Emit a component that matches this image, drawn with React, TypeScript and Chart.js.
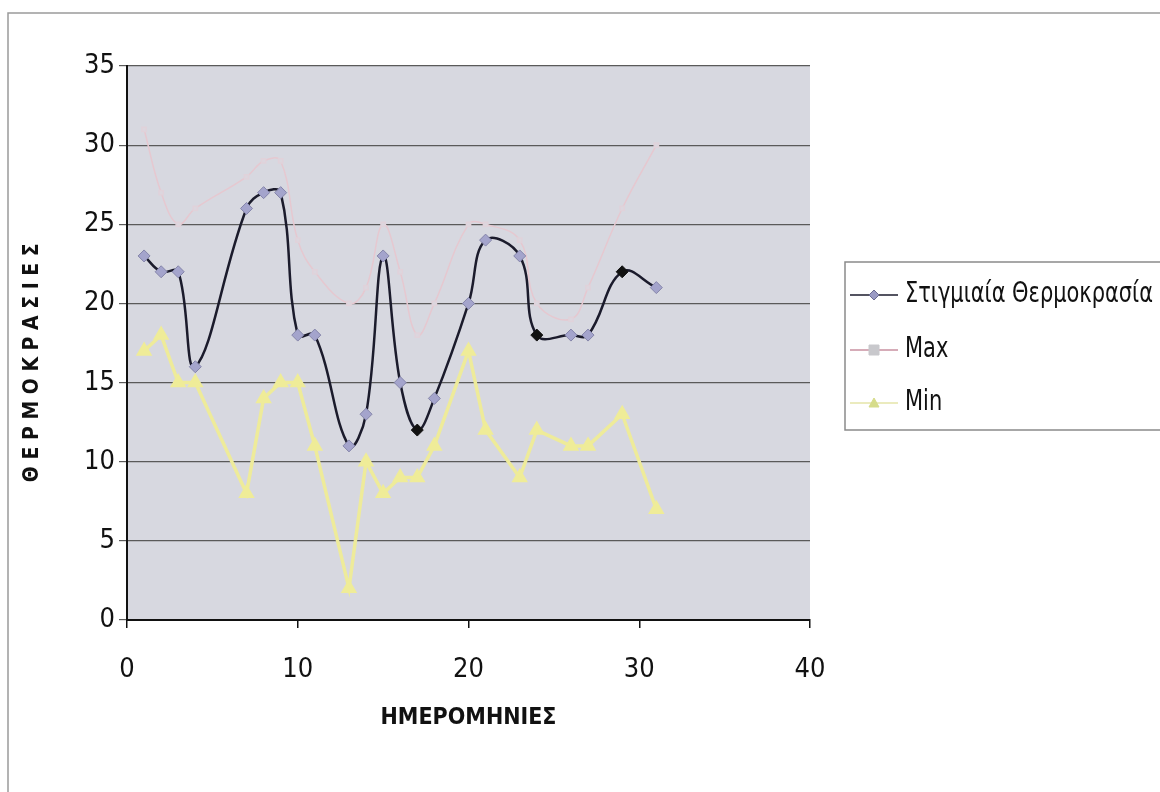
import React, { useEffect, useRef } from "react";
import { Chart, registerables } from "chart.js";

Chart.register(...registerables);

const days = [1, 2, 3, 4, 7, 8, 9, 10, 11, 13, 14, 15, 16, 17, 18, 20, 21, 23, 24, 26, 27, 29, 31];
const instantTemp = [23, 22, 22, 16, 26, 27, 27, 18, 18, 11, 13, 23, 15, 12, 14, 20, 24, 23, 18, 18, 18, 22, 21];
const maxTemp = [31, 27, 25, 26, 28, 29, 29, 24, 22, 20, 21, 25, 22, 18, 20, 25, 25, 24, 20, 19, 21, 26, 30];
const minTemp = [17, 18, 15, 15, 8, 14, 15, 15, 11, 2, 10, 8, 9, 9, 11, 17, 12, 9, 12, 11, 11, 13, 7];
const darkDays = [17, 24, 29];

const xTicks = [0, 10, 20, 30, 40];
const yTicks = [0, 5, 10, 15, 20, 25, 30, 35];

const FONT = "'DejaVu Sans Condensed', 'Liberation Sans Narrow', 'Liberation Sans', Arial, sans-serif";

const toPoints = (ys: number[]) => days.map((d, i) => ({ x: d, y: ys[i] }));

const plotBg = {
  id: "plotBg",
  beforeDraw(chart: any) {
    const { ctx, chartArea } = chart;
    ctx.save();
    ctx.fillStyle = "#d7d8e0";
    ctx.fillRect(chartArea.left, chartArea.top, chartArea.right - chartArea.left, chartArea.bottom - chartArea.top);
    ctx.strokeStyle = "#9a9a9a";
    ctx.lineWidth = 1.5;
    ctx.strokeRect(8, 13, 1170, 800);
    ctx.restore();
  },
};

const boxLegend = {
  id: "boxLegend",
  afterDraw(chart: any) {
    const { ctx } = chart;
    const left = 845, top = 262, bottom = 430;
    ctx.save();
    ctx.fillStyle = "#ffffff";
    ctx.fillRect(left, top, 400, bottom - top);
    ctx.strokeStyle = "#8a8a8a";
    ctx.lineWidth = 1.5;
    ctx.strokeRect(left, top, 400, bottom - top);
    const rows = [295, 350, 403];
    ctx.font = `28px ${FONT}`;
    const widest = Math.max(...chart.data.datasets.map((d: any) => ctx.measureText(d.label).width));
    const sx = Math.min(1, 248 / widest);
    chart.data.datasets.forEach((ds: any, i: number) => {
      const y = rows[i];
      ctx.strokeStyle = ds.legendLine;
      ctx.lineWidth = 1.5;
      ctx.beginPath();
      ctx.moveTo(850, y);
      ctx.lineTo(898, y);
      ctx.stroke();
      ctx.fillStyle = ds.legendMarker;
      ctx.strokeStyle = ds.pointBorderColorLegend || ds.legendMarker;
      ctx.lineWidth = 1;
      const cx = 874;
      ctx.beginPath();
      if (ds.pointStyle === "rectRot") {
        ctx.moveTo(cx, y - 5); ctx.lineTo(cx + 5, y); ctx.lineTo(cx, y + 5); ctx.lineTo(cx - 5, y); ctx.closePath();
      } else if (ds.pointStyle === "rect") {
        ctx.rect(cx - 5, y - 5, 10, 10);
      } else {
        ctx.moveTo(cx, y - 5); ctx.lineTo(cx + 5, y + 4); ctx.lineTo(cx - 5, y + 4); ctx.closePath();
      }
      ctx.fill();
      ctx.stroke();
      ctx.save();
      ctx.translate(905, y);
      ctx.scale(sx, 1);
      ctx.fillStyle = "#111111";
      ctx.font = `28px ${FONT}`;
      ctx.textBaseline = "middle";
      ctx.textAlign = "left";
      ctx.fillText(ds.label, 0, 0);
      ctx.restore();
    });
    ctx.restore();
  },
};

export default function App() {
  const ref = useRef<HTMLCanvasElement | null>(null);

  useEffect(() => {
    if (!ref.current) return;
    const chart = new Chart(ref.current, {
      type: "line",
      data: {
        datasets: [
          {
            label: "Στιγμιαία Θερμοκρασία",
            data: toPoints(instantTemp),
            borderColor: "#1b1b2c",
            borderWidth: 2.5,
            tension: 0.4,
            pointStyle: "rectRot",
            pointRadius: 6,
            pointBackgroundColor: (c: any) => (c.raw && darkDays.includes(c.raw.x) ? "#111111" : "#a4a4cc"),
            pointBorderColor: (c: any) => (c.raw && darkDays.includes(c.raw.x) ? "#111111" : "#8585aa"),
            pointBorderWidth: 1,
            legendLine: "#1b1b2c",
            legendMarker: "#9a9ac4",
            pointBorderColorLegend: "#6a6a90",
          } as any,
          {
            label: "Max",
            data: toPoints(maxTemp),
            borderColor: "#e6c8d0",
            borderWidth: 1.5,
            tension: 0.4,
            pointStyle: "rect",
            pointRadius: 3,
            pointBackgroundColor: "#dcd6de",
            pointBorderColor: "#e0d2da",
            legendLine: "#c890a0",
            legendMarker: "#c8c8cc",
          } as any,
          {
            label: "Min",
            data: toPoints(minTemp),
            borderColor: "#eeeb9a",
            borderWidth: 3.5,
            tension: 0,
            pointStyle: "triangle",
            pointRadius: 6,
            pointBackgroundColor: "#efec98",
            pointBorderColor: "#efec98",
            legendLine: "#e4e4a8",
            legendMarker: "#d6dc8a",
          } as any,
        ],
      },
      options: {
        animation: false,
        responsive: false,
        maintainAspectRatio: false,
        layout: { padding: { left: 0, top: 66, right: 350, bottom: 0 } },
        plugins: { legend: { display: false }, tooltip: { enabled: false } },
        scales: {
          x: {
            type: "linear",
            min: 0,
            max: 40,
            afterBuildTicks: (s: any) => { s.ticks = xTicks.map((v) => ({ value: v })); },
            afterFit: (s: any) => { s.height = 172; },
            grid: { drawOnChartArea: false, drawTicks: true, tickLength: 8, color: "#111111", lineWidth: 1.5 },
            border: { display: true, color: "#111111", width: 2 },
            ticks: { color: "#111111", font: { family: FONT, size: 27 }, padding: 26, maxRotation: 0 },
            title: {
              display: true,
              text: "ΗΜΕΡΟΜΗΝΙΕΣ",
              color: "#111111",
              font: { family: FONT, size: 23, weight: "bold" },
              padding: { top: 0, bottom: 60 },
            },
          },
          y: {
            type: "linear",
            min: 0,
            max: 35,
            afterBuildTicks: (s: any) => { s.ticks = yTicks.map((v) => ({ value: v })); },
            afterFit: (s: any) => { s.width = 127; },
            grid: { drawOnChartArea: true, drawTicks: true, tickLength: 8, color: "#5a5a5a", lineWidth: 1.2 },
            border: { display: true, color: "#111111", width: 2 },
            ticks: { color: "#111111", font: { family: FONT, size: 27 }, padding: 4 },
            title: {
              display: true,
              text: "Θ Ε Ρ Μ Ο Κ Ρ Α Σ Ι Ε Σ      ",
              color: "#111111",
              font: { family: FONT, size: 21, weight: "bold" },
              padding: { top: 20, bottom: 0 },
            },
          },
        },
      } as any,
      plugins: [plotBg, boxLegend],
    });
    return () => chart.destroy();
  }, []);

  return (
    <div style={{ position: "fixed", left: 0, top: 0, width: 1160, height: 792, background: "#ffffff" }}>
      <canvas ref={ref} width={1160} height={792} style={{ width: 1160, height: 792, display: "block" }} />
    </div>
  );
}
